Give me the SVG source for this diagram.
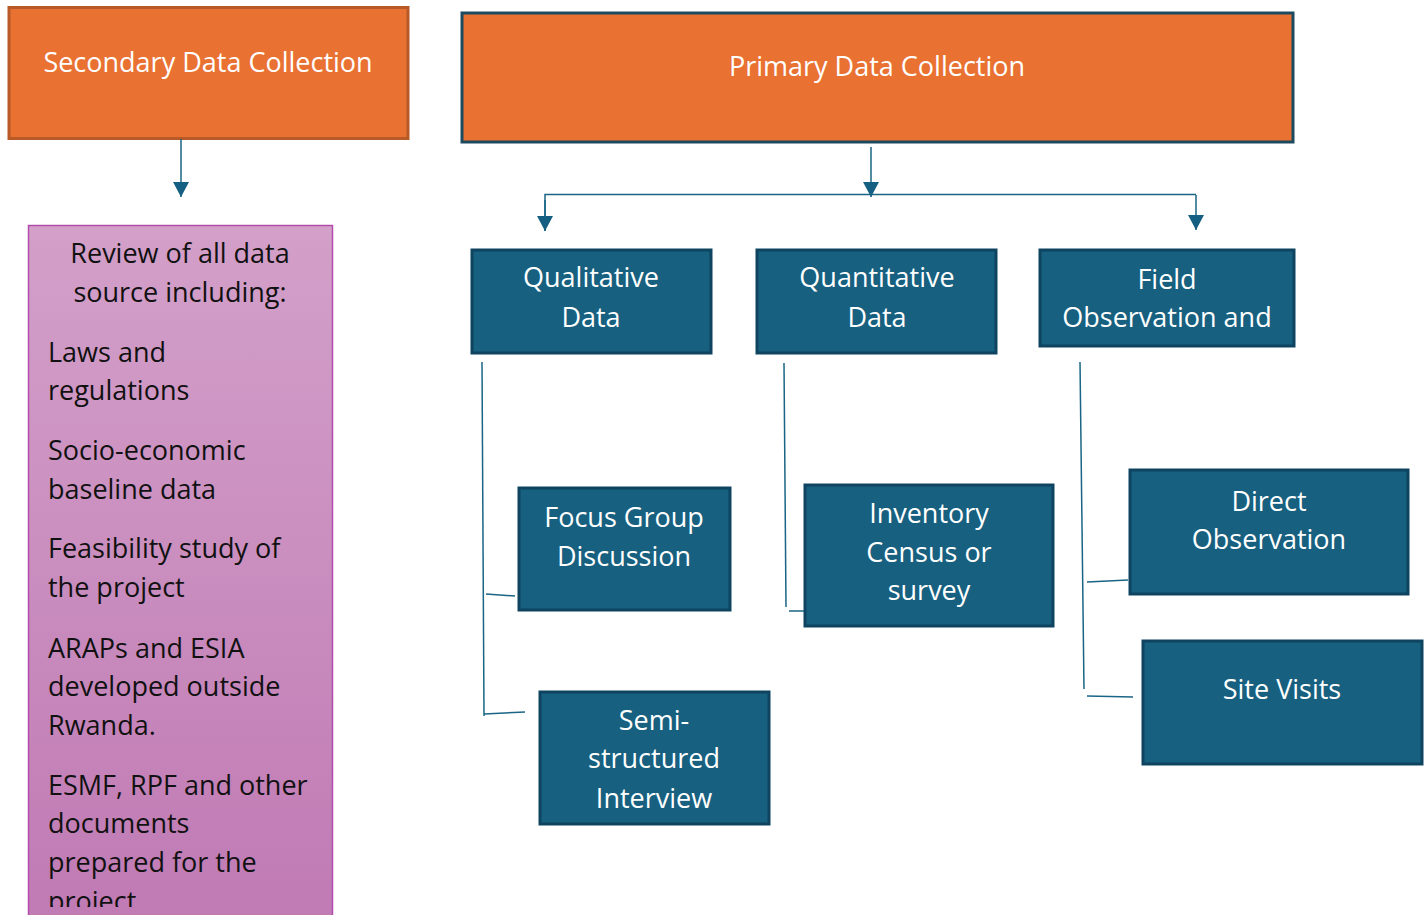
<svg xmlns="http://www.w3.org/2000/svg" width="1428" height="915" viewBox="0 0 1428 915">
<defs>
<linearGradient id="pg" x1="0" y1="0" x2="0" y2="1">
<stop offset="0" stop-color="#D3A0C9"/>
<stop offset="1" stop-color="#C07AB4"/>
</linearGradient>
<clipPath id="pc"><rect x="28" y="225" width="306" height="682"/></clipPath>
<marker id="ah" viewBox="0 0 15 16" refX="15" refY="8" markerWidth="15" markerHeight="16" markerUnits="userSpaceOnUse" orient="auto">
<path d="M0,0 L15,8 L0,16 Z" fill="#156082"/>
</marker>
<style>
text{font-family:"Open Sans","Noto Sans","Liberation Sans",sans-serif;font-size:27px;}
.w{fill:#ffffff;text-anchor:middle;}
.k{fill:#111111;}
.org{fill:#E97132;}
.teal{fill:#17607F;stroke:#0F4460;stroke-width:3;}
.ln{fill:none;stroke:#1A6585;stroke-width:1.5;}
</style>
</defs>
<g id="secondary">
<rect x="9" y="7.5" width="399" height="131" class="org" stroke="#B75A28" stroke-width="3"/>
<text class="w" x="208" y="72" font-size="28">Secondary Data Collection</text>
</g>
<g id="primary">
<rect x="462" y="13" width="831" height="129" class="org" stroke="#1E4A60" stroke-width="3"/>
<text class="w" x="877" y="76">Primary Data Collection</text>
</g>
<g id="review">
<rect x="28.5" y="225.5" width="304" height="700" fill="url(#pg)" stroke="#B34DAD" stroke-width="1.5"/>
<g clip-path="url(#pc)">
<text class="k" x="180" y="263" text-anchor="middle">Review of all data</text>
<text class="k" x="180" y="302" text-anchor="middle">source including:</text>
<text class="k" x="48" y="362">Laws and</text>
<text class="k" x="48" y="400">regulations</text>
<text class="k" x="48" y="460">Socio-economic</text>
<text class="k" x="48" y="499">baseline data</text>
<text class="k" x="48" y="558">Feasibility study of</text>
<text class="k" x="48" y="597">the project</text>
<text class="k" x="48" y="658">ARAPs and ESIA</text>
<text class="k" x="48" y="696">developed outside</text>
<text class="k" x="48" y="735">Rwanda.</text>
<text class="k" x="48" y="795">ESMF, RPF and other</text>
<text class="k" x="48" y="833">documents</text>
<text class="k" x="48" y="872">prepared for the</text>
<text class="k" x="48" y="911">project.</text>
</g>
</g>
<g id="qualitative">
<rect x="472" y="250" width="239" height="103" class="teal"/>
<text class="w" x="591" y="287">Qualitative</text>
<text class="w" x="591" y="327">Data</text>
</g>
<g id="quantitative">
<rect x="757" y="250" width="239" height="103" class="teal"/>
<text class="w" x="877" y="287">Quantitative</text>
<text class="w" x="877" y="327">Data</text>
</g>
<g id="field">
<rect x="1040" y="250" width="254" height="96" class="teal"/>
<text class="w" x="1167" y="289">Field</text>
<text class="w" x="1167" y="327">Observation and</text>
</g>
<g id="focus">
<rect x="519" y="488" width="211" height="122" class="teal"/>
<text class="w" x="624" y="527">Focus Group</text>
<text class="w" x="624" y="566">Discussion</text>
</g>
<g id="semi">
<rect x="540" y="692" width="229" height="132" class="teal"/>
<text class="w" x="654" y="730">Semi-</text>
<text class="w" x="654" y="768">structured</text>
<text class="w" x="654" y="808">Interview</text>
</g>
<g id="inventory">
<rect x="805" y="485" width="248" height="141" class="teal"/>
<text class="w" x="929" y="523">Inventory</text>
<text class="w" x="929" y="562">Census or</text>
<text class="w" x="929" y="600">survey</text>
</g>
<g id="direct">
<rect x="1130" y="470" width="278" height="124" class="teal"/>
<text class="w" x="1269" y="511">Direct</text>
<text class="w" x="1269" y="549">Observation</text>
</g>
<g id="site">
<rect x="1143" y="641" width="279" height="123" class="teal"/>
<text class="w" x="1282" y="699">Site Visits</text>
</g>
<g id="connectors">
<line class="ln" x1="181" y1="139" x2="181" y2="197" marker-end="url(#ah)"/>
<line class="ln" x1="871" y1="147" x2="871" y2="197" marker-end="url(#ah)"/>
<polyline class="ln" points="545,231 545,194.5 1196,194.5"/>
<line class="ln" x1="545" y1="200" x2="545" y2="231" marker-end="url(#ah)"/>
<line class="ln" x1="1196" y1="195" x2="1196" y2="230" marker-end="url(#ah)"/>
<line class="ln" x1="482" y1="362" x2="484" y2="716"/>
<line class="ln" x1="486" y1="594" x2="515" y2="596"/>
<line class="ln" x1="484" y1="714" x2="525" y2="712"/>
<line class="ln" x1="784" y1="363" x2="786" y2="607"/>
<line class="ln" x1="789" y1="611" x2="804" y2="611"/>
<line class="ln" x1="1080" y1="362" x2="1084" y2="689"/>
<line class="ln" x1="1087" y1="582" x2="1128" y2="580"/>
<line class="ln" x1="1087" y1="696" x2="1133" y2="697"/>
</g>
</svg>
